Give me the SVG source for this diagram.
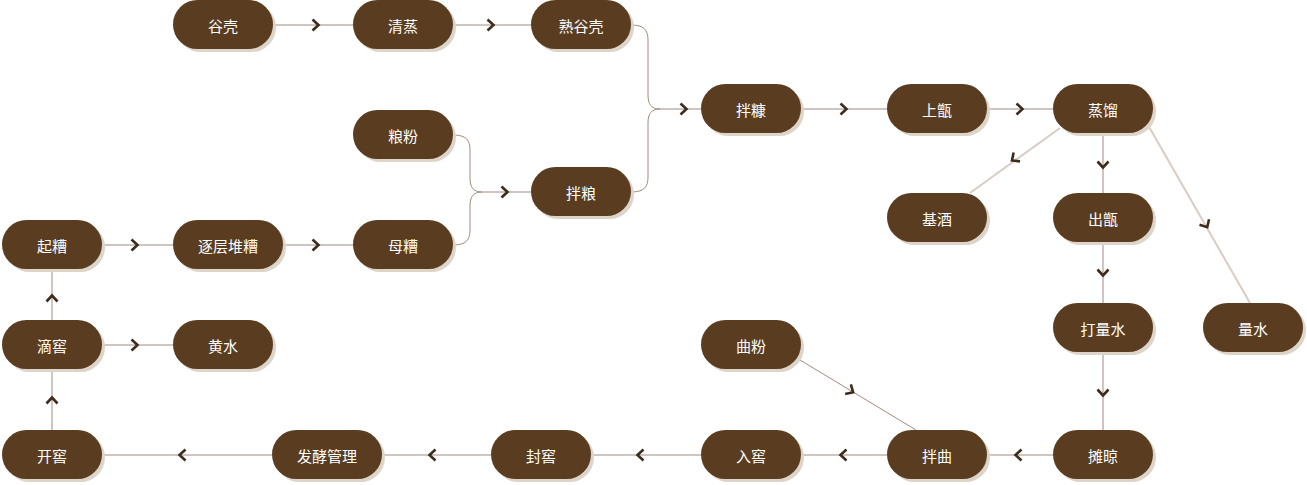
<svg xmlns="http://www.w3.org/2000/svg" xmlns:xlink="http://www.w3.org/1999/xlink" width="1307" height="485" viewBox="0 0 1307 485">
<style>
.ln{fill:none;stroke:#a08c82;stroke-width:1}
.lt{fill:none;stroke:#d8cdc4;stroke-width:2}
.ch{fill:none;stroke:#3d2c1c;stroke-width:2.6;stroke-linejoin:miter;stroke-linecap:butt}
.sh{fill:#ddd4ca}
.bx{fill:#5a3d20}
.tx{fill:#ffffff;font-family:"Noto Sans CJK SC","Noto Sans",sans-serif;font-size:15px;text-anchor:middle;dominant-baseline:central}
</style>
<defs>
<path id="chev" class="ch" d="M-3.5,-5.5 L2.5,0 L-3.5,5.5"/>
</defs>
<rect width="1307" height="485" fill="#ffffff"/>
<g id="connectors">
<path class="ln" d="M273,25 H353"/>
<path class="ln" d="M453,25 H531"/>
<path class="ln" d="M631,25 C644,25 648,30 648,40 V95 C648,104 651,109 660,109 H701"/>
<path class="ln" d="M631,192 C644,192 648,187 648,177 V123 C648,114 651,109 660,109"/>
<path class="ln" d="M453,135 C466,135 470,140 470,150 V178 C470,187 473,192 482,192 H531"/>
<path class="ln" d="M453,245 C466,245 470,240 470,230 V206 C470,197 473,192 482,192"/>
<path class="ln" d="M801,109 H887"/>
<path class="ln" d="M987,109 H1053"/>
<path class="ln" d="M1103,134 V193"/>
<path class="ln" d="M1103,243 V303"/>
<path class="ln" d="M1103,353 V430"/>
<path class="lt" d="M1060,128 L970,193"/>
<path class="lt" d="M1148,125 L1250,303"/>
<path class="ln" d="M1053,455 H987"/>
<path class="ln" d="M887,455 H801"/>
<path class="ln" d="M701,455 H591"/>
<path class="ln" d="M491,455 H382"/>
<path class="ln" d="M272,455 H102"/>
<path class="ln" d="M52,430 V370"/>
<path class="ln" d="M52,320 V270"/>
<path class="ln" d="M102,345 H173"/>
<path class="ln" d="M102,245 H173"/>
<path class="ln" d="M283,245 H353"/>
<path class="ln" d="M800,360 L916,430"/>
<use href="#chev" transform="translate(316,25)"/>
<use href="#chev" transform="translate(491,25)"/>
<use href="#chev" transform="translate(684,109)"/>
<use href="#chev" transform="translate(505,192)"/>
<use href="#chev" transform="translate(844,109)"/>
<use href="#chev" transform="translate(1020,109)"/>
<use href="#chev" transform="translate(1103,165) rotate(90)"/>
<use href="#chev" transform="translate(1103,273) rotate(90)"/>
<use href="#chev" transform="translate(1103,393) rotate(90)"/>
<use href="#chev" transform="translate(1014,159) rotate(144.2)"/>
<use href="#chev" transform="translate(1206,225) rotate(60.2)"/>
<use href="#chev" transform="translate(1018,455) rotate(180)"/>
<use href="#chev" transform="translate(843,455) rotate(180)"/>
<use href="#chev" transform="translate(640,455) rotate(180)"/>
<use href="#chev" transform="translate(432,455) rotate(180)"/>
<use href="#chev" transform="translate(182,455) rotate(180)"/>
<use href="#chev" transform="translate(52,400) rotate(-90)"/>
<use href="#chev" transform="translate(52,298) rotate(-90)"/>
<use href="#chev" transform="translate(135,345)"/>
<use href="#chev" transform="translate(135,245)"/>
<use href="#chev" transform="translate(316,245)"/>
<use href="#chev" transform="translate(851,391) rotate(31.1)"/>
</g>
<g id="n-gukeke"><rect class="sh" x="176" y="3" width="100" height="49" rx="24.5"/><rect class="bx" x="173" y="0" width="100" height="49" rx="24.5"/><text class="tx" x="223" y="25">谷壳</text></g>
<g id="n-qingzheng"><rect class="sh" x="356" y="3" width="100" height="49" rx="24.5"/><rect class="bx" x="353" y="0" width="100" height="49" rx="24.5"/><text class="tx" x="403" y="25">清蒸</text></g>
<g id="n-shuguke"><rect class="sh" x="534" y="3" width="100" height="49" rx="24.5"/><rect class="bx" x="531" y="0" width="100" height="49" rx="24.5"/><text class="tx" x="581" y="25">熟谷壳</text></g>
<g id="n-bankang"><rect class="sh" x="704" y="87" width="100" height="49" rx="24.5"/><rect class="bx" x="701" y="84" width="100" height="49" rx="24.5"/><text class="tx" x="751" y="109">拌糠</text></g>
<g id="n-shangzeng"><rect class="sh" x="890" y="87" width="100" height="49" rx="24.5"/><rect class="bx" x="887" y="84" width="100" height="49" rx="24.5"/><text class="tx" x="937" y="109">上甑</text></g>
<g id="n-zhengliu"><rect class="sh" x="1056" y="87" width="100" height="49" rx="24.5"/><rect class="bx" x="1053" y="84" width="100" height="49" rx="24.5"/><text class="tx" x="1103" y="109">蒸馏</text></g>
<g id="n-liangfen"><rect class="sh" x="356" y="113" width="100" height="49" rx="24.5"/><rect class="bx" x="353" y="110" width="100" height="49" rx="24.5"/><text class="tx" x="403" y="135">粮粉</text></g>
<g id="n-banliang"><rect class="sh" x="534" y="170" width="100" height="49" rx="24.5"/><rect class="bx" x="531" y="167" width="100" height="49" rx="24.5"/><text class="tx" x="581" y="192">拌粮</text></g>
<g id="n-jijiu"><rect class="sh" x="890" y="196" width="100" height="49" rx="24.5"/><rect class="bx" x="887" y="193" width="100" height="49" rx="24.5"/><text class="tx" x="937" y="218">基酒</text></g>
<g id="n-chuzeng"><rect class="sh" x="1056" y="196" width="100" height="49" rx="24.5"/><rect class="bx" x="1053" y="193" width="100" height="49" rx="24.5"/><text class="tx" x="1103" y="218">出甑</text></g>
<g id="n-qizao"><rect class="sh" x="5" y="223" width="100" height="49" rx="24.5"/><rect class="bx" x="2" y="220" width="100" height="49" rx="24.5"/><text class="tx" x="52" y="245">起糟</text></g>
<g id="n-zhuceng"><rect class="sh" x="176" y="223" width="110" height="49" rx="24.5"/><rect class="bx" x="173" y="220" width="110" height="49" rx="24.5"/><text class="tx" x="228" y="245">逐层堆糟</text></g>
<g id="n-muzao"><rect class="sh" x="356" y="223" width="100" height="49" rx="24.5"/><rect class="bx" x="353" y="220" width="100" height="49" rx="24.5"/><text class="tx" x="403" y="245">母糟</text></g>
<g id="n-daliangshui"><rect class="sh" x="1056" y="306" width="100" height="49" rx="24.5"/><rect class="bx" x="1053" y="303" width="100" height="49" rx="24.5"/><text class="tx" x="1103" y="328">打量水</text></g>
<g id="n-liangshui"><rect class="sh" x="1206" y="306" width="100" height="49" rx="24.5"/><rect class="bx" x="1203" y="303" width="100" height="49" rx="24.5"/><text class="tx" x="1253" y="328">量水</text></g>
<g id="n-dijiao"><rect class="sh" x="5" y="323" width="100" height="49" rx="24.5"/><rect class="bx" x="2" y="320" width="100" height="49" rx="24.5"/><text class="tx" x="52" y="345">滴窖</text></g>
<g id="n-huangshui"><rect class="sh" x="176" y="323" width="100" height="49" rx="24.5"/><rect class="bx" x="173" y="320" width="100" height="49" rx="24.5"/><text class="tx" x="223" y="345">黄水</text></g>
<g id="n-qufen"><rect class="sh" x="704" y="323" width="100" height="49" rx="24.5"/><rect class="bx" x="701" y="320" width="100" height="49" rx="24.5"/><text class="tx" x="751" y="345">曲粉</text></g>
<g id="n-kaijiao"><rect class="sh" x="5" y="433" width="100" height="49" rx="24.5"/><rect class="bx" x="2" y="430" width="100" height="49" rx="24.5"/><text class="tx" x="52" y="455">开窖</text></g>
<g id="n-fajiao"><rect class="sh" x="275" y="433" width="110" height="49" rx="24.5"/><rect class="bx" x="272" y="430" width="110" height="49" rx="24.5"/><text class="tx" x="327" y="455">发酵管理</text></g>
<g id="n-fengjiao"><rect class="sh" x="494" y="433" width="100" height="49" rx="24.5"/><rect class="bx" x="491" y="430" width="100" height="49" rx="24.5"/><text class="tx" x="541" y="455">封窖</text></g>
<g id="n-rujiao"><rect class="sh" x="704" y="433" width="100" height="49" rx="24.5"/><rect class="bx" x="701" y="430" width="100" height="49" rx="24.5"/><text class="tx" x="751" y="455">入窖</text></g>
<g id="n-banqu"><rect class="sh" x="890" y="433" width="100" height="49" rx="24.5"/><rect class="bx" x="887" y="430" width="100" height="49" rx="24.5"/><text class="tx" x="937" y="455">拌曲</text></g>
<g id="n-tanliang"><rect class="sh" x="1056" y="433" width="100" height="49" rx="24.5"/><rect class="bx" x="1053" y="430" width="100" height="49" rx="24.5"/><text class="tx" x="1103" y="455">摊晾</text></g>
</svg>
